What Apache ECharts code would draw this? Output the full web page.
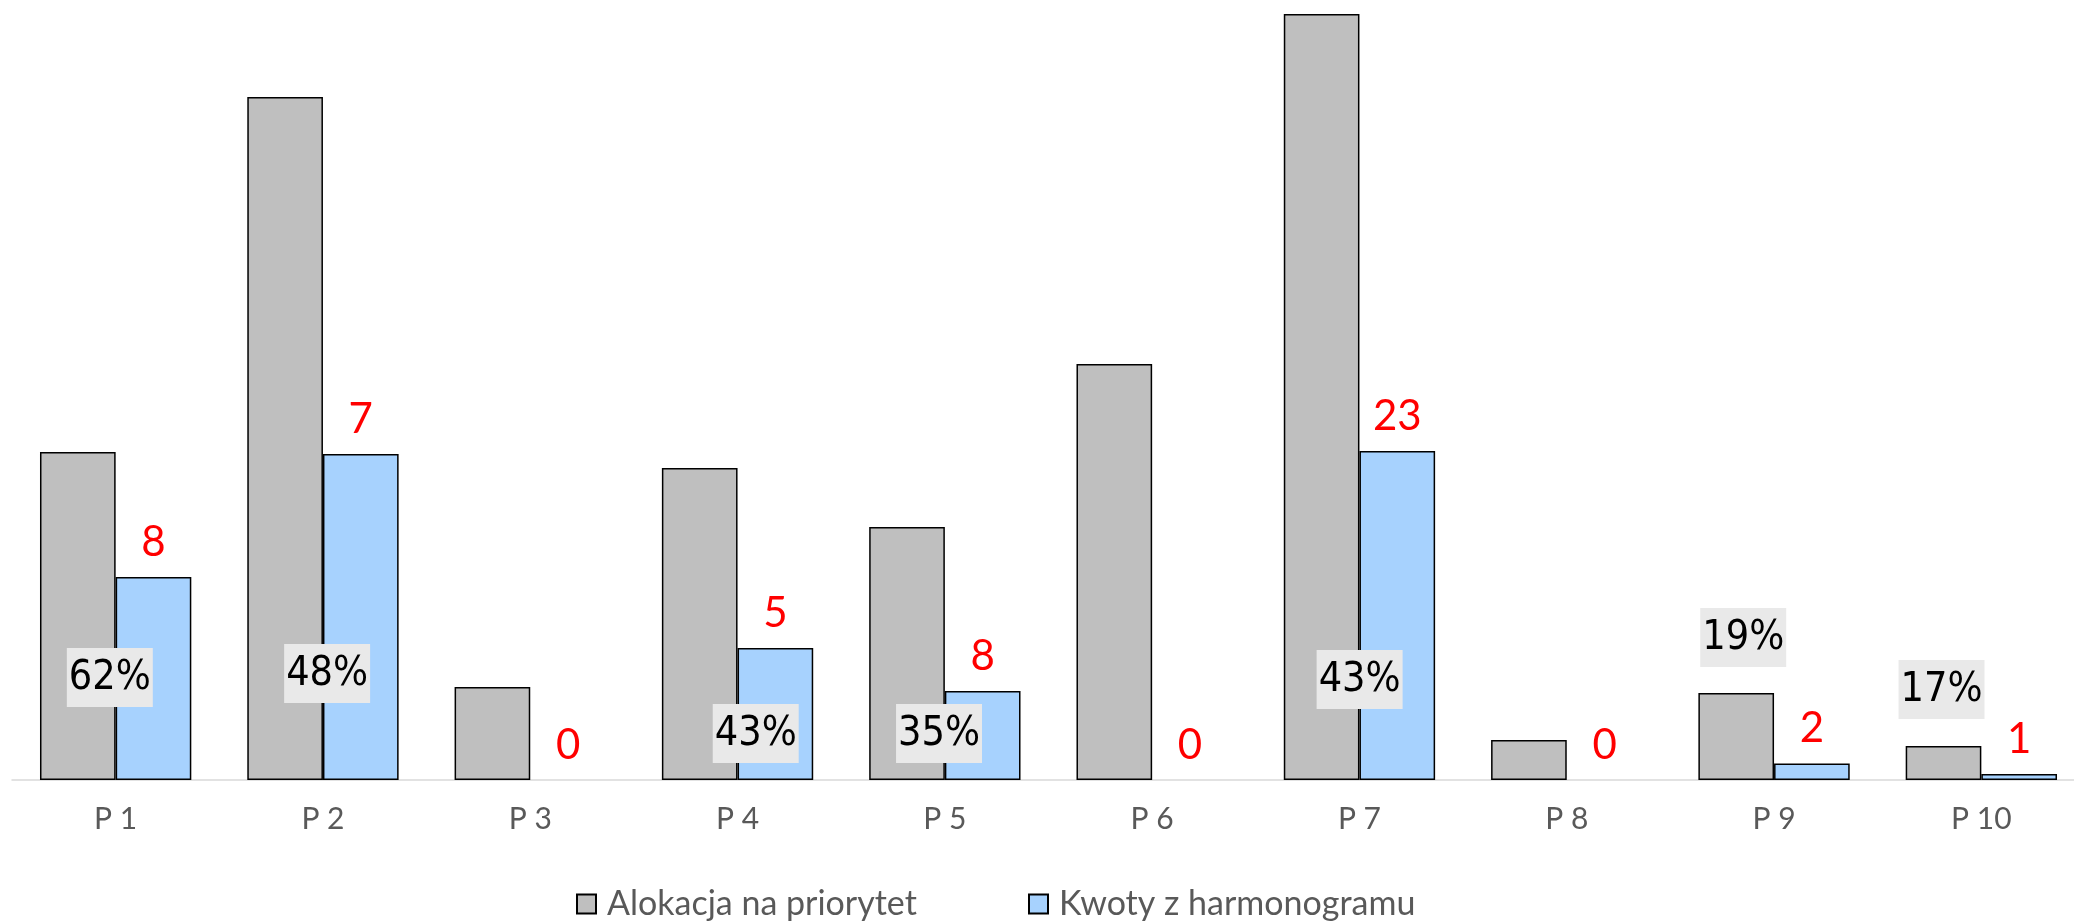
<!DOCTYPE html>
<html>
<head>
<meta charset="utf-8">
<title>Alokacja na priorytet</title>
<script src="https://cdn.jsdelivr.net/npm/echarts@6/dist/echarts.min.js"></script>
<style>
  html, body { margin: 0; padding: 0; background: #fff; overflow: hidden; }
  #bar_priorytety { width: 2085px; height: 921px; }
</style>
</head>
<body>
<div id="bar_priorytety"></div>
<script>
  'use strict';

  // categories
  var priorities = ['P 1', 'P 2', 'P 3', 'P 4', 'P 5', 'P 6', 'P 7', 'P 8', 'P 9', 'P 10'];

  // series values
  var alokacja = [32.8, 68.3, 9.3, 31.2, 25.3, 41.6, 76.6, 4.0, 8.7, 3.4];
  var kwoty    = [20.3, 32.6, 0, 13.2, 8.9, 0, 32.9, 0, 1.65, 0.6];

  // red labels over the blue bars
  var liczby = [8, 7, 0, 5, 8, 0, 23, 0, 2, 1];

  // percentage labels (empty where the chart has none)
  var procenty = ['62%', '48%', '', '43%', '35%', '', '43%', '', '19%', '17%'];

  /*--------------- label placement (moved by hand in the original) -------------*/
  var pctShift = [[32, 73], [42, 77], null, [56, 17], [32, 17], null, [38, 71], null, [7, 113], [-2, 61]];

  var fontMain = 'Lato, "Open Sans", sans-serif';
  var fontPct = '"Liberation Sans Narrow", "DejaVu Sans Condensed", Lato, sans-serif';

  var greyData = alokacja.map(function (v, i) {
    var item = { value: v };
    if (procenty[i]) {
      item.label = {
        show: true,
        position: 'insideBottom',
        distance: 0,
        offset: [pctShift[i][0], -pctShift[i][1]],
        formatter: procenty[i],
        color: '#000',
        fontFamily: fontPct,
        fontSize: 41,
        lineHeight: 46,
        backgroundColor: '#E9E9E9',
        padding: [7, 2, 6, 2]
      };
    }
    return item;
  });

  var blueData = kwoty.map(function (v) {
    if (v === 0) {
      return { value: 0, itemStyle: { borderWidth: 0 } };
    }
    return v;
  });

  var myChart = echarts.init(document.getElementById('bar_priorytety'));

  var legendText = { color: '#595959', fontFamily: fontMain, fontSize: 34, padding: [0, 0, 0, 6] };

  var option = {
    backgroundColor: '#fff',
    animation: false,

    // Setup grid
    grid: {
      left: 12,
      right: 0,
      top: 0,
      bottom: 141,
      containLabel: false
    },

    // Add legend
    legend: [
      {
        data: ['Alokacja na priorytet'],
        left: 571,
        top: 882,
        icon: 'rect',
        itemWidth: 19,
        itemHeight: 19,
        textStyle: legendText
      },
      {
        data: ['Kwoty z harmonogramu'],
        left: 1023,
        top: 882,
        icon: 'rect',
        itemWidth: 19,
        itemHeight: 19,
        textStyle: legendText
      }
    ],

    // Horizontal axis
    xAxis: [{
      type: 'category',
      data: priorities,
      boundaryGap: true,
      axisLine: {
        show: true,
        lineStyle: { color: '#D9D9D9', width: 1.5 }
      },
      axisTick: { show: false },
      axisLabel: {
        color: '#595959',
        fontFamily: fontMain,
        fontSize: 30,
        margin: 24
      },
      splitLine: { show: false }
    }],

    // Vertical axis
    yAxis: [{
      type: 'value',
      show: false,
      min: 0,
      max: 78,
      splitLine: { show: false }
    }],

    // Add series
    series: [
      {
        name: 'Alokacja na priorytet',
        type: 'bar',
        z: 3,
        barGap: '0%',
        barCategoryGap: '27%',
        itemStyle: { color: '#BFBFBF', borderColor: '#000', borderWidth: 1.5 },
        label: { show: false },
        data: greyData
      },
      {
        name: 'Kwoty z harmonogramu',
        type: 'bar',
        z: 2,
        barGap: '0%',
        barCategoryGap: '27%',
        itemStyle: { color: '#A7D2FE', borderColor: '#000', borderWidth: 1.5 },
        label: {
          show: true,
          position: 'top',
          distance: 14,
          color: '#FF0000',
          fontFamily: fontMain,
          fontSize: 42,
          formatter: function (p) { return liczby[p.dataIndex]; }
        },
        data: blueData
      }
    ]
  };

  // Load data into the ECharts instance
  myChart.setOption(option);
</script>
</body>
</html>
